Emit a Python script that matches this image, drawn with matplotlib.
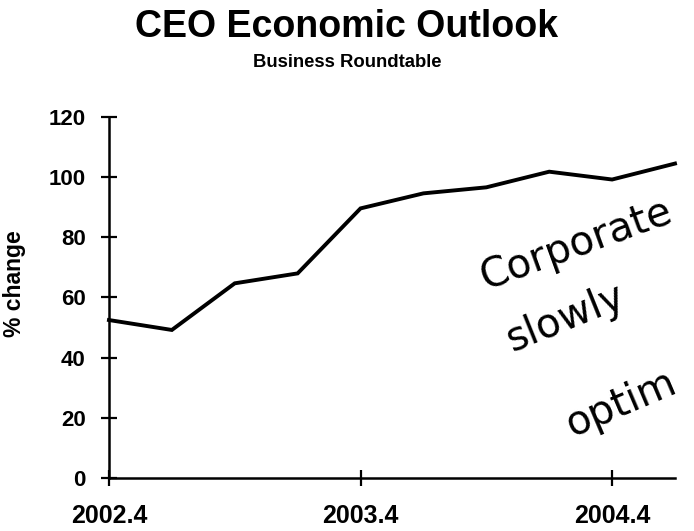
import numpy as np
import matplotlib.pyplot as plt

# quarterly values, 2002.4 .. 2005.1
quarters = np.arange(10)
outlook = [52.5, 49.2, 64.7, 68.0, 89.6, 94.6, 96.6, 101.8, 99.2, 104.5]
tick_pos = [0, 4, 8]
tick_labels = ["2002.4", "2003.4", "2004.4"]
y_ticks = [0, 20, 40, 60, 80, 100, 120]

plt.rcParams['font.family'] = ['Liberation Sans', 'DejaVu Sans']

fig = plt.figure(figsize=(6.94, 5.31), dpi=100)
ax = fig.add_axes([0.157, 0.0998, 0.8156, 0.680])

ax.plot(quarters, outlook, color="black", linewidth=2.8, solid_joinstyle="miter", clip_on=False)

ax.set_xlim(0, 9)
ax.set_ylim(0, 120)
ax.set_xticks(tick_pos)
ax.set_xticklabels(tick_labels, fontsize=18, fontweight="bold")
ax.set_yticks(y_ticks)
ax.set_yticklabels([str(v) for v in y_ticks], fontsize=16, fontweight="bold")
ax.tick_params(direction="inout", length=11.5, width=1.6)
ax.tick_params(axis="y", pad=11)
ax.tick_params(axis="x", pad=13)

for s in ["top", "right"]:
    ax.spines[s].set_visible(False)
for s in ["left", "bottom"]:
    ax.spines[s].set_linewidth(1.8)

ax.set_ylabel("% change", fontsize=16.5, fontweight="bold")
ax.yaxis.set_label_coords(-0.146, 0.537)

fig.text(0.5, 0.930, "CEO Economic Outlook", ha="center", va="baseline",
         fontsize=27, fontweight="bold")
fig.text(0.5, 0.874, "Business Roundtable", ha="center", va="baseline",
         fontsize=13.3, fontweight="bold")

# handwritten note (cut off at the right edge)
hand = dict(fontsize=29, family=["DejaVu Sans"], fontweight="normal",
            rotation_mode="anchor", ha="left", va="baseline")
fig.text(0.700, 0.455, "Corporate", rotation=20, **hand)
fig.text(0.738, 0.337, "slowly", rotation=22, **hand)
fig.text(0.824, 0.177, "optim", rotation=23, **hand)

fig.savefig("out.png", dpi=100)
